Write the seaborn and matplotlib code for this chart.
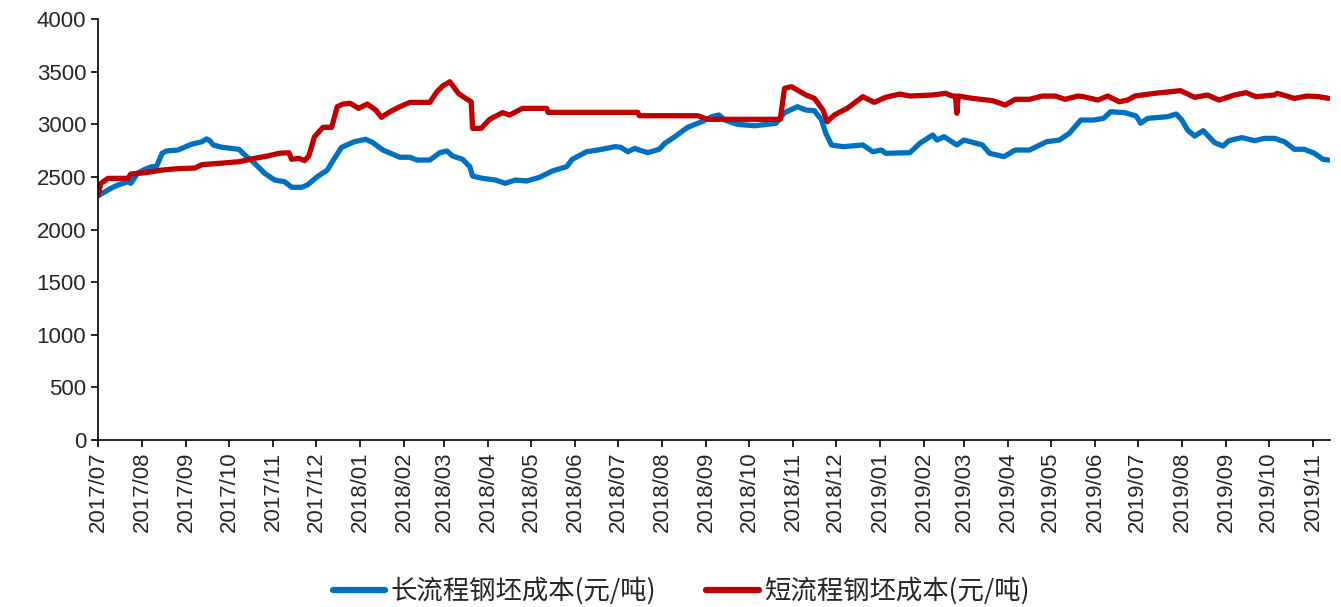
import seaborn as sns
import matplotlib
matplotlib.use('Agg')
import matplotlib.pyplot as plt
import matplotlib.dates as mdates
import pandas as pd

# 长流程钢坯成本 (blue)
long_dates = ['2017-07-01', '2017-07-10', '2017-07-15', '2017-07-22', '2017-07-24', '2017-07-29',
              '2017-08-03', '2017-08-08', '2017-08-11', '2017-08-15', '2017-08-18', '2017-08-26',
              '2017-09-05', '2017-09-12', '2017-09-15', '2017-09-17', '2017-09-20', '2017-09-26',
              '2017-10-08', '2017-10-12', '2017-10-19', '2017-10-26', '2017-11-02', '2017-11-09',
              '2017-11-14', '2017-11-21', '2017-11-25', '2017-12-02', '2017-12-09', '2017-12-14',
              '2017-12-19', '2017-12-28', '2018-01-05', '2018-01-10', '2018-01-17', '2018-01-29',
              '2018-02-05', '2018-02-10', '2018-02-19', '2018-02-26', '2018-03-03', '2018-03-07',
              '2018-03-14', '2018-03-19', '2018-03-21', '2018-03-28', '2018-04-06', '2018-04-13',
              '2018-04-20', '2018-04-28', '2018-05-07', '2018-05-16', '2018-05-26', '2018-05-30',
              '2018-06-09', '2018-06-17', '2018-06-29', '2018-07-03', '2018-07-08', '2018-07-13',
              '2018-07-16', '2018-07-22', '2018-07-30', '2018-08-03', '2018-08-10', '2018-08-19',
              '2018-08-29', '2018-09-05', '2018-09-10', '2018-09-14', '2018-09-23', '2018-10-05',
              '2018-10-20', '2018-10-26', '2018-11-04', '2018-11-10', '2018-11-16', '2018-11-21',
              '2018-11-24', '2018-11-28', '2018-12-06', '2018-12-20', '2018-12-27', '2019-01-02',
              '2019-01-05', '2019-01-22', '2019-01-29', '2019-02-07', '2019-02-10', '2019-02-15',
              '2019-02-24', '2019-03-01', '2019-03-14', '2019-03-19', '2019-03-29', '2019-04-06',
              '2019-04-16', '2019-04-28', '2019-05-07', '2019-05-14', '2019-05-20', '2019-05-22',
              '2019-05-31', '2019-06-07', '2019-06-12', '2019-06-22', '2019-06-30', '2019-07-03',
              '2019-07-08', '2019-07-22', '2019-07-28', '2019-08-01', '2019-08-05', '2019-08-10',
              '2019-08-16', '2019-08-24', '2019-08-30', '2019-09-03', '2019-09-12', '2019-09-21',
              '2019-09-28', '2019-10-05', '2019-10-12', '2019-10-19', '2019-10-26', '2019-11-02',
              '2019-11-08', '2019-11-12']
long_cost = [2320, 2391, 2423, 2454, 2439, 2537,
             2572, 2597, 2597, 2724, 2746, 2755,
             2812, 2834, 2860, 2850, 2803, 2781,
             2762, 2708, 2629, 2534, 2470, 2454,
             2401, 2401, 2423, 2502, 2565, 2676,
             2781, 2834, 2857, 2825, 2755, 2686,
             2686, 2660, 2660, 2730, 2746, 2698,
             2667, 2597, 2508, 2486, 2470, 2439,
             2470, 2461, 2496, 2556, 2597, 2667,
             2739, 2755, 2787, 2781, 2739, 2771,
             2755, 2730, 2762, 2819, 2882, 2971,
             3025, 3072, 3088, 3040, 2999, 2986,
             3009, 3110, 3167, 3135, 3129, 3040,
             2914, 2803, 2787, 2803, 2739, 2755,
             2724, 2730, 2819, 2898, 2850, 2882,
             2803, 2850, 2803, 2724, 2692, 2755,
             2755, 2834, 2850, 2914, 3009, 3040,
             3040, 3056, 3119, 3110, 3078, 3009,
             3056, 3072, 3097, 3040, 2945, 2888,
             2939, 2825, 2793, 2844, 2873, 2844,
             2866, 2866, 2834, 2762, 2762, 2724,
             2667, 2660]

# 短流程钢坯成本 (red)
short_dates = ['2017-07-01', '2017-07-03', '2017-07-08', '2017-07-22', '2017-07-24', '2017-08-03',
               '2017-08-15', '2017-08-26', '2017-09-07', '2017-09-12', '2017-09-30', '2017-10-08',
               '2017-10-19', '2017-10-28', '2017-11-05', '2017-11-12', '2017-11-14', '2017-11-19',
               '2017-11-23', '2017-11-26', '2017-11-30', '2017-12-06', '2017-12-12', '2017-12-16',
               '2017-12-20', '2017-12-25', '2017-12-31', '2018-01-06', '2018-01-12', '2018-01-16',
               '2018-01-22', '2018-01-29', '2018-02-05', '2018-02-19', '2018-02-24', '2018-02-28',
               '2018-03-05', '2018-03-11', '2018-03-15', '2018-03-20', '2018-03-21', '2018-03-27',
               '2018-04-02', '2018-04-11', '2018-04-16', '2018-04-25', '2018-05-12', '2018-05-13',
               '2018-07-15', '2018-07-16', '2018-08-26', '2018-09-02', '2018-10-23', '2018-10-26',
               '2018-10-31', '2018-11-04', '2018-11-10', '2018-11-16', '2018-11-22', '2018-11-25',
               '2018-11-30', '2018-12-09', '2018-12-20', '2018-12-28', '2019-01-05', '2019-01-15',
               '2019-01-22', '2019-02-07', '2019-02-16', '2019-02-21', '2019-02-23', '2019-02-24',
               '2019-02-25', '2019-03-07', '2019-03-21', '2019-03-30', '2019-04-06', '2019-04-16',
               '2019-04-25', '2019-05-04', '2019-05-11', '2019-05-20', '2019-05-24', '2019-06-03',
               '2019-06-10', '2019-06-18', '2019-06-24', '2019-06-29', '2019-07-13', '2019-07-24',
               '2019-07-31', '2019-08-10', '2019-08-19', '2019-08-27', '2019-09-07', '2019-09-15',
               '2019-09-22', '2019-10-05', '2019-10-07', '2019-10-19', '2019-10-28', '2019-11-05',
               '2019-11-12']
short_cost = [2330, 2439, 2486, 2486, 2527, 2540,
              2565, 2578, 2584, 2616, 2635, 2644,
              2676, 2698, 2724, 2730, 2667, 2676,
              2654, 2698, 2882, 2971, 2971, 3167,
              3192, 3199, 3151, 3192, 3135, 3066,
              3119, 3167, 3208, 3208, 3309, 3363,
              3404, 3294, 3256, 3214, 2961, 2961,
              3047, 3110, 3088, 3151, 3151, 3113,
              3113, 3081, 3081, 3047, 3047, 3341,
              3357, 3325, 3278, 3246, 3135, 3025,
              3088, 3151, 3262, 3208, 3256, 3287,
              3268, 3278, 3294, 3268, 3268, 3104,
              3268, 3246, 3224, 3183, 3237, 3237,
              3268, 3268, 3237, 3268, 3262, 3230,
              3268, 3214, 3230, 3268, 3294, 3309,
              3319, 3256, 3278, 3230, 3278, 3300,
              3262, 3278, 3294, 3246, 3268, 3262,
              3246]

long_name = '长流程钢坯成本(元/吨)'
short_name = '短流程钢坯成本(元/吨)'

df = pd.concat([
    pd.DataFrame({'date': pd.to_datetime(long_dates), 'cost': long_cost, 'series': long_name}),
    pd.DataFrame({'date': pd.to_datetime(short_dates), 'cost': short_cost, 'series': short_name}),
])

sns.set_style("ticks")
plt.rcParams['font.family'] = ['Liberation Sans', 'Noto Sans CJK SC', 'DejaVu Sans']

fig = plt.figure(figsize=(13.41, 6.07), dpi=100)
ax = fig.add_axes([0.0731, 0.2751, 0.9187, 0.6936])

sns.lineplot(data=df, x='date', y='cost', hue='series',
             palette={long_name: '#0070C0', short_name: '#C00000'},
             linewidth=3.8, solid_joinstyle='round', solid_capstyle='round', ax=ax)

ax.set_xlim(pd.Timestamp('2017-07-01'), pd.Timestamp('2019-11-13'))
ax.set_ylim(0, 4000)
ax.set_yticks(range(0, 4001, 500))
ax.xaxis.set_major_locator(mdates.MonthLocator())
ax.xaxis.set_major_formatter(mdates.DateFormatter('%Y/%m'))
ax.tick_params(axis='x', labelrotation=90, labelsize=16, length=5, width=1.2, color='black')
ax.tick_params(axis='y', labelsize=16, length=5, width=1.2, color='black')
ax.set_xlabel('')
ax.set_ylabel('')
for side in ['top', 'right']:
    ax.spines[side].set_visible(False)
for side in ['left', 'bottom']:
    ax.spines[side].set_color('black')
    ax.spines[side].set_linewidth(1.2)

handles, labels = ax.get_legend_handles_labels()
ax.legend(handles, labels, loc='center', bbox_to_anchor=(0.508, 0.026),
          bbox_transform=fig.transFigure, ncol=2, frameon=False,
          prop={'family': ['Noto Sans CJK SC'], 'size': 19},
          handlelength=2.0, handletextpad=0.2, columnspacing=1.9)
for line in ax.get_legend().get_lines():
    line.set_linewidth(4.5)

fig.savefig('out.png', dpi=100)
